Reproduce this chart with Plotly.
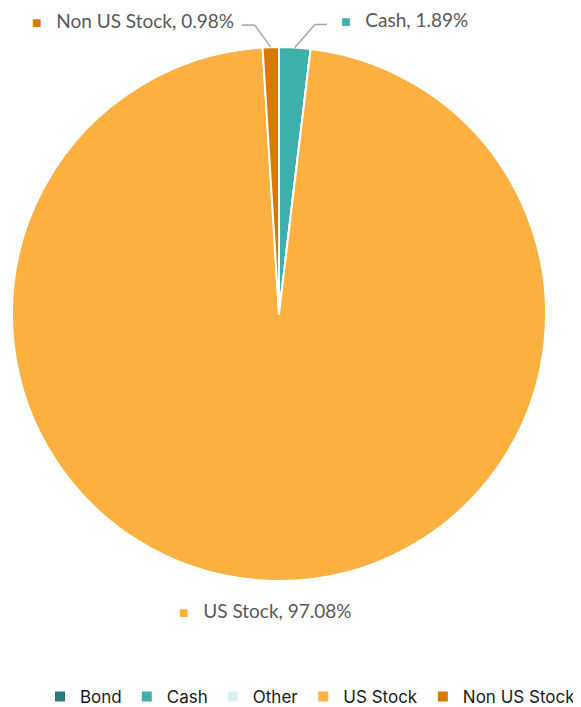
import math
import plotly.graph_objects as go

labels = ["Bond", "Cash", "Other", "US Stock", "Non US Stock"]
values = [0.0, 1.89, 0.0, 97.08, 0.98]
colors = ["#2B7A7A", "#3DB0AB", "#DAF0EE", "#FBB03F", "#D97A00"]

# the page body has an 8px margin, so the figure starts at (8, 8) in the window
OFF = 8
W, H = 581 - OFF, 707 - OFF
# pie box in window pixels
PL, PR, PT, PB = 12 - OFF, 546 - OFF, 47 - OFF, 581 - OFF
R = (PR - PL) / 2
CX = (PL + PR) / 2
CY = (PT + PB) / 2


def px2paper(x, y):
    return x / W, (H - y) / H


def mid_point(i):
    tot = sum(values)
    start = sum(values[:i]) / tot
    frac = start + values[i] / tot / 2
    a = 2 * math.pi * frac
    return CX + R * math.sin(a), CY - R * math.cos(a)


fig = go.Figure(go.Pie(
    labels=labels,
    values=values,
    sort=False,
    direction="clockwise",
    rotation=0,
    domain=dict(x=[PL / W, PR / W], y=[(H - PB) / H, (H - PT) / H]),
    marker=dict(colors=colors, line=dict(color="white", width=2)),
    textinfo="none",
    hoverinfo="label+percent",
    showlegend=True,
))

label_font = dict(family="Lato", size=19, color="#595959")
annotations = []
shapes = []


def label_text(i):
    return (f"<span style='color:{colors[i]};font-size:16px'>■</span>"
            f"&nbsp;&nbsp;&nbsp;{labels[i]}, {values[i]:.2f}%")


# label specs: index, elbow offset (dx, dy), horizontal run, side
specs = [
    (1, (20, -23), 12, "left"),
    (4, (-16, -22), -13, "right"),
]
for i, (dx, dy), run, side in specs:
    ax, ay = mid_point(i)
    ex, ey = ax + dx, ay + dy
    fx, fy = ex + run, ey
    for (x0, y0), (x1, y1) in [((ax, ay), (ex, ey)), ((ex, ey), (fx, fy))]:
        p0 = px2paper(x0, y0)
        p1 = px2paper(x1, y1)
        shapes.append(dict(type="line", xref="paper", yref="paper",
                           x0=p0[0], y0=p0[1], x1=p1[0], y1=p1[1],
                           line=dict(color="#A6A6A6", width=1.5)))
    tx = fx + (12 if side == "left" else -6)
    lx, ly = px2paper(tx, fy - 5)
    annotations.append(dict(
        x=lx, y=ly, xref="paper", yref="paper",
        xanchor=side, yanchor="middle", showarrow=False,
        text=label_text(i), font=label_font,
    ))

# US Stock label below the pie
ax, ay = mid_point(3)
lx, ly = px2paper(ax - 6, ay + 30)
annotations.append(dict(
    x=lx, y=ly, xref="paper", yref="paper",
    xanchor="center", yanchor="middle", showarrow=False,
    text=label_text(3), font=label_font,
))

lgx, lgy = px2paper(W, 697 - OFF)
fig.update_layout(
    width=W, height=H,
    margin=dict(l=0, r=0, t=0, b=0, autoexpand=False),
    paper_bgcolor="white",
    plot_bgcolor="white",
    annotations=annotations,
    shapes=shapes,
    legend=dict(orientation="h", x=lgx, y=lgy, xanchor="right", yanchor="middle",
                font=dict(family="Inter", size=17, color="#1a1a1a"),
                bgcolor="rgba(0,0,0,0)",
                itemclick=False, tracegroupgap=0),
)

fig.write_html("out.html")
